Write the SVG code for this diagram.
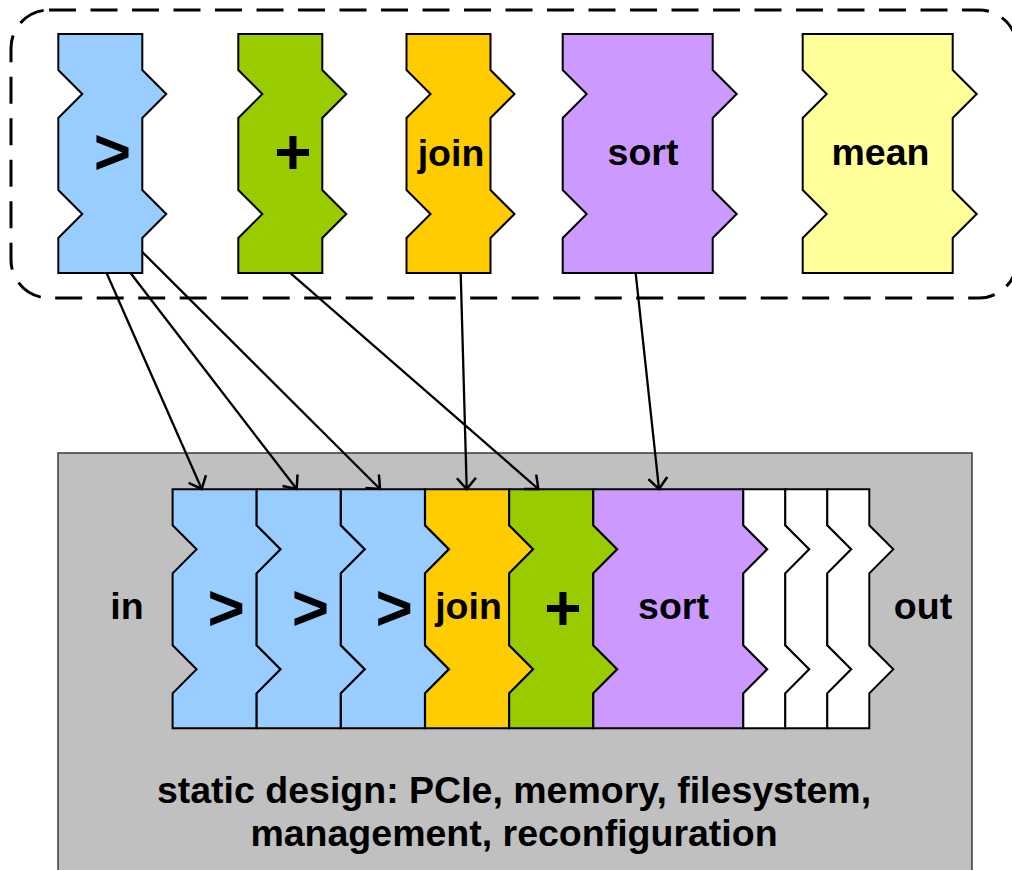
<svg xmlns="http://www.w3.org/2000/svg" xmlns:xlink="http://www.w3.org/1999/xlink" width="1012" height="870" viewBox="0 0 1012 870">
  <style>
    .piece { stroke: #000; stroke-width: 2; stroke-linejoin: miter; }
    .blue { fill: #99CCFF; }
    .green { fill: #99CC00; }
    .gold { fill: #FFCC00; }
    .violet { fill: #CC99FF; }
    .pale { fill: #FFFF99; }
    .blank { fill: #FFFFFF; }
    .lbl { font-family: "Liberation Sans", Arial, sans-serif; font-weight: bold; font-size: 37.5px; fill: #000; text-anchor: middle; }
    .sym { font-family: "Liberation Sans", Arial, sans-serif; font-weight: bold; font-size: 64px; fill: #000; text-anchor: middle; }
    .link { stroke: #000; stroke-width: 2.3; fill: none; marker-end: url(#head); }
  </style>
  <defs>
    <!-- puzzle-edged operator blocks: notch on the left, tab on the right -->
    <path id="p84" d="M0,0 H84 V36 L108,60 L84,84 V156 L108,180 L84,204 V239 H0 V204 L24,180 L0,156 V84 L24,60 L0,36 Z"/>
    <path id="p150" d="M0,0 H150 V36 L174,60 L150,84 V156 L174,180 L150,204 V239 H0 V204 L24,180 L0,156 V84 L24,60 L0,36 Z"/>
    <path id="p42" d="M0,0 H42 V36 L66,60 L42,84 V156 L66,180 L42,204 V239 H0 V204 L24,180 L0,156 V84 L24,60 L0,36 Z"/>
    <marker id="head" viewBox="-13 -11 15 22" refX="0" refY="0" markerWidth="15" markerHeight="22" markerUnits="userSpaceOnUse" orient="auto">
      <path d="M-11,-9.5 L0,0 L-11,9.5" fill="none" stroke="#000" stroke-width="2.5"/>
    </marker>
  </defs>

  <!-- operator library -->
  <rect id="library" x="11" y="10" width="1006" height="288" rx="38" ry="38" fill="none" stroke="#000" stroke-width="3" stroke-dasharray="27 14.5"/>

  <g id="lib-gt">
    <use xlink:href="#p84" x="58.3" y="34" class="piece blue"/>
    <text class="sym" x="112.5" y="173.5">&gt;</text>
  </g>
  <g id="lib-plus">
    <use xlink:href="#p84" x="238.3" y="34" class="piece green"/>
    <text class="sym" x="293" y="173.5">+</text>
  </g>
  <g id="lib-join">
    <use xlink:href="#p84" x="406.5" y="34" class="piece gold"/>
    <text class="lbl" x="451" y="165.5">join</text>
  </g>
  <g id="lib-sort">
    <use xlink:href="#p150" x="562.7" y="34" class="piece violet"/>
    <text class="lbl" x="643" y="165">sort</text>
  </g>
  <g id="lib-mean">
    <use xlink:href="#p150" x="802.7" y="34" class="piece pale"/>
    <text class="lbl" x="880.5" y="165">mean</text>
  </g>

  <!-- FPGA: static region hosting the reconfigurable pipeline -->
  <g id="static">
    <rect x="58" y="453" width="914" height="440" fill="#C0C0C0" stroke="#3a3a3a" stroke-width="1.5"/>
    <text class="lbl" x="514" y="803">static design: PCIe, memory, filesystem,</text>
    <text class="lbl" x="514" y="846">management, reconfiguration</text>
    <text class="lbl" x="127" y="619">in</text>
    <text class="lbl" x="923" y="619">out</text>
  </g>

  <g id="slot1">
    <use xlink:href="#p84" x="172.6" y="489.3" class="piece blue"/>
    <text class="sym" x="226.3" y="630">&gt;</text>
  </g>
  <g id="slot2">
    <use xlink:href="#p84" x="256.7" y="489.3" class="piece blue"/>
    <text class="sym" x="310.5" y="630">&gt;</text>
  </g>
  <g id="slot3">
    <use xlink:href="#p84" x="340.9" y="489.3" class="piece blue"/>
    <text class="sym" x="394.3" y="630">&gt;</text>
  </g>
  <g id="slot4">
    <use xlink:href="#p84" x="425.1" y="489.3" class="piece gold"/>
    <text class="lbl" x="468.5" y="619">join</text>
  </g>
  <g id="slot5">
    <use xlink:href="#p84" x="509.2" y="489.3" class="piece green"/>
    <text class="sym" x="563" y="630">+</text>
  </g>
  <g id="slot6">
    <use xlink:href="#p150" x="593.3" y="489.3" class="piece violet"/>
    <text class="lbl" x="673.5" y="619">sort</text>
  </g>
  <g id="slot7">
    <use xlink:href="#p42" x="743.3" y="489.3" class="piece blank"/>
  </g>
  <g id="slot8">
    <use xlink:href="#p42" x="785.3" y="489.3" class="piece blank"/>
  </g>
  <g id="slot9">
    <use xlink:href="#p42" x="827.3" y="489.3" class="piece blank"/>
  </g>

  <!-- placement of library operators into pipeline slots -->
  <g id="connectors">
    <line class="link" x1="106.7" y1="273.3" x2="201.7" y2="489"/>
    <line class="link" x1="130.7" y1="273.3" x2="296.7" y2="489"/>
    <line class="link" x1="142.3" y1="252" x2="380" y2="489"/>
    <line class="link" x1="290.7" y1="273.3" x2="538.3" y2="489"/>
    <line class="link" x1="460.7" y1="273.3" x2="466.7" y2="489"/>
    <line class="link" x1="635.7" y1="273.3" x2="659" y2="489"/>
  </g>
</svg>
